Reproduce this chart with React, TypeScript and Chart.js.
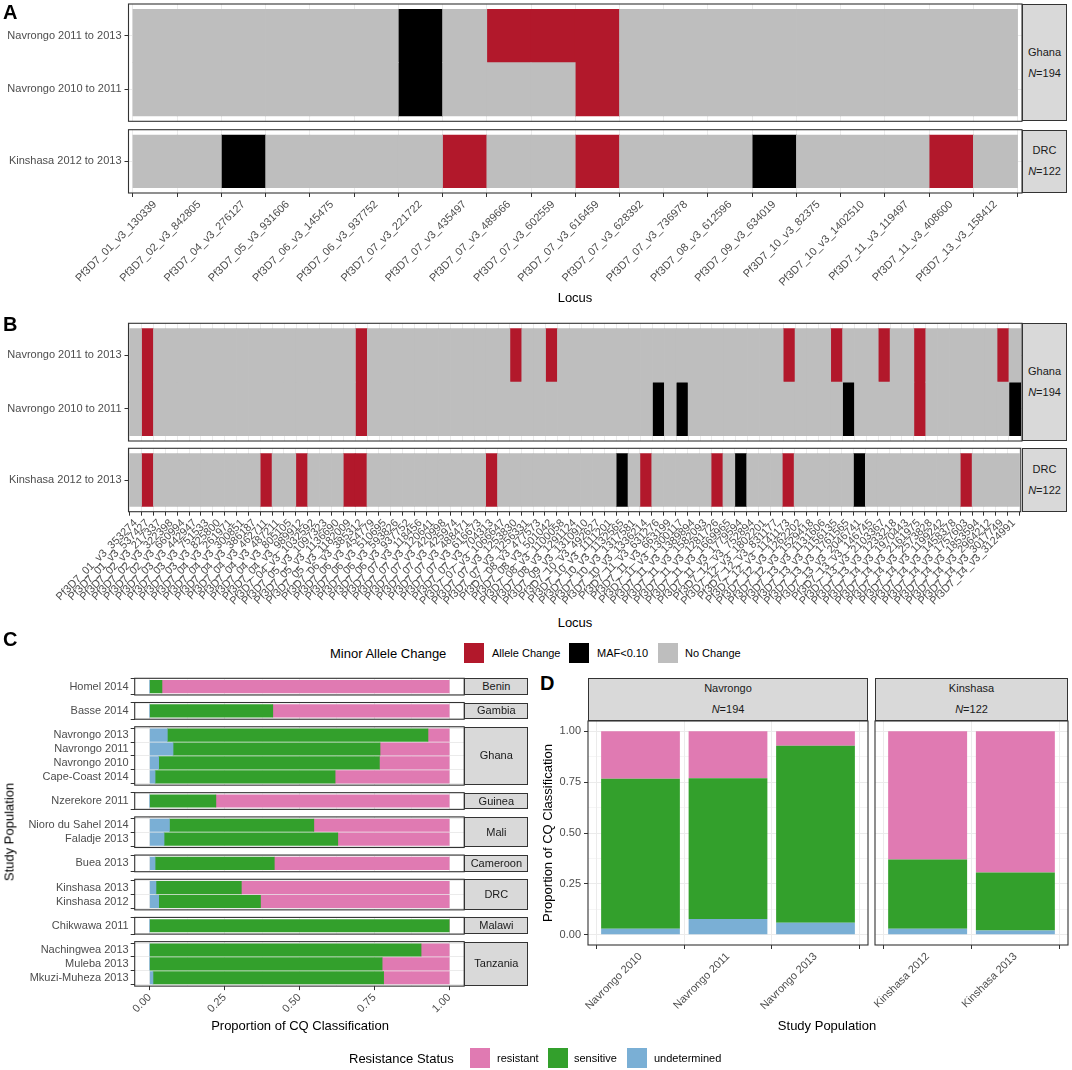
import React, { useEffect, useRef } from 'react';
import { Chart, registerables } from 'chart.js';

Chart.register(...registerables);

const FONT = "'Liberation Sans', Arial, Helvetica, sans-serif";
Chart.defaults.font.family = FONT;
Chart.defaults.font.size = 11;
Chart.defaults.color = '#4D4D4D';

// ---------------- Panel A data ----------------
const lociA = [
  'Pf3D7_01_v3_130339', 'Pf3D7_02_v3_842805', 'Pf3D7_04_v3_276127', 'Pf3D7_05_v3_931606',
  'Pf3D7_06_v3_145475', 'Pf3D7_06_v3_937752', 'Pf3D7_07_v3_221722', 'Pf3D7_07_v3_435497',
  'Pf3D7_07_v3_489666', 'Pf3D7_07_v3_602559', 'Pf3D7_07_v3_616459', 'Pf3D7_07_v3_628392',
  'Pf3D7_07_v3_736978', 'Pf3D7_08_v3_612596', 'Pf3D7_09_v3_634019', 'Pf3D7_10_v3_82375',
  'Pf3D7_10_v3_1402510', 'Pf3D7_11_v3_119497', 'Pf3D7_11_v3_408600', 'Pf3D7_13_v3_158412',
];
// status codes: 0 = No Change, 1 = Allele Change, 2 = MAF<0.10
const aNav1113 = [0, 0, 0, 0, 0, 0, 2, 0, 1, 1, 1, 0, 0, 0, 0, 0, 0, 0, 0, 0];
const aNav1011 = [0, 0, 0, 0, 0, 0, 2, 0, 0, 0, 1, 0, 0, 0, 0, 0, 0, 0, 0, 0];
const aKin1213 = [0, 0, 2, 0, 0, 0, 0, 1, 0, 0, 1, 0, 0, 0, 2, 0, 0, 0, 1, 0];

// ---------------- Panel B data ----------------
const lociB = [
  'Pf3D7_01_v3_353274', 'Pf3D7_01_v3_537427', 'Pf3D7_02_v3_217337', 'Pf3D7_02_v3_322398', 'Pf3D7_02_v3_660994',
  'Pf3D7_03_v3_442947', 'Pf3D7_03_v3_751533', 'Pf3D7_03_v3_825800', 'Pf3D7_04_v3_261971', 'Pf3D7_04_v3_300851',
  'Pf3D7_04_v3_386187', 'Pf3D7_04_v3_462711', 'Pf3D7_04_v3_487211', 'Pf3D7_04_v3_805105', 'Pf3D7_04_v3_989912',
  'Pf3D7_04_v3_1032592', 'Pf3D7_05_v3_1097323', 'Pf3D7_05_v3_1136690', 'Pf3D7_05_v3_1182009', 'Pf3D7_06_v3_385312',
  'Pf3D7_06_v3_454779', 'Pf3D7_06_v3_510695', 'Pf3D7_06_v3_593826', 'Pf3D7_06_v3_937752', 'Pf3D7_07_v3_118456',
  'Pf3D7_07_v3_120641', 'Pf3D7_07_v3_420998', 'Pf3D7_07_v3_425974', 'Pf3D7_07_v3_488471', 'Pf3D7_07_v3_616673',
  'Pf3D7_07_v3_704313', 'Pf3D7_07_v3_1066647', 'Pf3D7_07_v3_1253830', 'Pf3D7_07_v3_1256331', 'Pf3D7_08_v3_477573',
  'Pf3D7_08_v3_501042', 'Pf3D7_08_v3_1100058', 'Pf3D7_08_v3_1291124', 'Pf3D7_09_v3_1310910', 'Pf3D7_10_v3_492627',
  'Pf3D7_10_v3_1111201', 'Pf3D7_10_v3_1132565', 'Pf3D7_10_v3_1317581', 'Pf3D7_10_v3_1336214', 'Pf3D7_11_v3_631276',
  'Pf3D7_11_v3_663199', 'Pf3D7_11_v3_1300117', 'Pf3D7_11_v3_1389894', 'Pf3D7_11_v3_1582093', 'Pf3D7_11_v3_1281726',
  'Pf3D7_11_v3_1669965', 'Pf3D7_11_v3_1779594', 'Pf3D7_12_v3_752894', 'Pf3D7_12_v3_1802201', 'Pf3D7_12_v3_831177',
  'Pf3D7_12_v3_1141173', 'Pf3D7_12_v3_1262202', 'Pf3D7_12_v3_1529418', 'Pf3D7_13_v3_1131606', 'Pf3D7_13_v3_1156135',
  'Pf3D7_13_v3_1761565', 'Pf3D7_13_v3_2046741', 'Pf3D7_13_v3_146745', 'Pf3D7_13_v3_2103367', 'Pf3D7_13_v3_1233218',
  'Pf3D7_14_v3_1970443', 'Pf3D7_14_v3_2161975', 'Pf3D7_14_v3_2573828', 'Pf3D7_14_v3_1199242', 'Pf3D7_14_v3_1458378',
  'Pf3D7_14_v3_1757603', 'Pf3D7_14_v3_1853594', 'Pf3D7_14_v3_2964212', 'Pf3D7_14_v3_3017749', 'Pf3D7_14_v3_3124991',
];
const bNav1113 = [
  0, 1, 0, 0, 0, 0, 0, 0, 0, 0,
  0, 0, 0, 0, 0, 0, 0, 0, 0, 1,
  0, 0, 0, 0, 0, 0, 0, 0, 0, 0,
  0, 0, 1, 0, 0, 1, 0, 0, 0, 0,
  0, 0, 0, 0, 0, 0, 0, 0, 0, 0,
  0, 0, 0, 0, 0, 1, 0, 0, 0, 1,
  0, 0, 0, 1, 0, 0, 1, 0, 0, 0,
  0, 0, 0, 1, 0,
];
const bNav1011 = [
  0, 1, 0, 0, 0, 0, 0, 0, 0, 0,
  0, 0, 0, 0, 0, 0, 0, 0, 0, 1,
  0, 0, 0, 0, 0, 0, 0, 0, 0, 0,
  0, 0, 0, 0, 0, 0, 0, 0, 0, 0,
  0, 0, 0, 0, 2, 0, 2, 0, 0, 0,
  0, 0, 0, 0, 0, 0, 0, 0, 0, 0,
  2, 0, 0, 0, 0, 0, 1, 0, 0, 0,
  0, 0, 0, 0, 2,
];
const bKin1213 = [
  0, 1, 0, 0, 0, 0, 0, 0, 0, 0,
  0, 1, 0, 0, 1, 0, 0, 0, 1, 1,
  0, 0, 0, 0, 0, 0, 0, 0, 0, 0,
  1, 0, 0, 0, 0, 0, 0, 0, 0, 0,
  0, 2, 0, 1, 0, 0, 0, 0, 0, 1,
  0, 2, 0, 0, 0, 1, 0, 0, 0, 0,
  0, 2, 0, 0, 0, 0, 0, 0, 0, 0,
  1, 0, 0, 0, 0,
];

const heatStatus = ['No Change', 'Allele Change', 'MAF<0.10'];
const heatColors = ['#BEBEBE', '#B2182B', '#000000'];

// ---------------- Panel C / D data ----------------
const sites = [
  'Homel 2014', 'Basse 2014', 'Navrongo 2013', 'Navrongo 2011', 'Navrongo 2010', 'Cape-Coast 2014',
  'Nzerekore 2011', 'Nioro du Sahel 2014', 'Faladje 2013', 'Buea 2013', 'Kinshasa 2013', 'Kinshasa 2012',
  'Chikwawa 2011', 'Nachingwea 2013', 'Muleba 2013', 'Mkuzi-Muheza 2013',
];
const siteCountry = [
  'Benin', 'Gambia', 'Ghana', 'Ghana', 'Ghana', 'Ghana', 'Guinea', 'Mali', 'Mali', 'Cameroon',
  'DRC', 'DRC', 'Malawi', 'Tanzania', 'Tanzania', 'Tanzania',
];
const countries = ['Benin', 'Gambia', 'Ghana', 'Guinea', 'Mali', 'Cameroon', 'DRC', 'Malawi', 'Tanzania'];
const undetermined = [0, 0, 0.059, 0.078, 0.03, 0.018, 0, 0.066, 0.048, 0.018, 0.021, 0.03, 0, 0, 0, 0.011];
const sensitive = [0.041, 0.411, 0.87, 0.691, 0.737, 0.601, 0.221, 0.482, 0.58, 0.398, 0.285, 0.34, 1.0, 0.906, 0.776, 0.77];
const resistant = [0.959, 0.589, 0.071, 0.231, 0.233, 0.381, 0.779, 0.452, 0.372, 0.584, 0.694, 0.63, 0, 0.094, 0.224, 0.219];

const dNavrongo = ['Navrongo 2010', 'Navrongo 2011', 'Navrongo 2013'];
const dKinshasa = ['Kinshasa 2012', 'Kinshasa 2013'];

const resColors = { resistant: '#E07AB2', sensitive: '#33A02C', undetermined: '#7AAFD5' };

// ---------------- helpers ----------------
const LINE = '#333333';
const GRID = '#EBEBEB';
const TICKTXT = '#4D4D4D';

type Box = { left: number; top: number; right: number; bottom: number };
type Area = { l: number; t: number; r: number; b: number };

const framePlugin = {
  id: 'panelFrame',
  afterDatasetsDraw(chart: any) {
    const { ctx, chartArea: a } = chart;
    ctx.save();
    ctx.strokeStyle = LINE;
    ctx.lineWidth = 1.1;
    ctx.strokeRect(a.left, a.top, a.right - a.left, a.bottom - a.top);
    ctx.restore();
  },
};

function baseOptions(box: Box, area: Area) {
  return {
    animation: false,
    responsive: false,
    maintainAspectRatio: false,
    events: [],
    layout: { padding: { left: 0, top: area.t - box.top, right: box.right - area.r, bottom: 0 } },
    plugins: { legend: { display: false }, tooltip: { enabled: false }, title: { display: false } },
  };
}

const isMajor = (v: number) => Math.abs(v * 4 - Math.round(v * 4)) < 1e-6;
const quarterTicks = [0, 0.125, 0.25, 0.375, 0.5, 0.625, 0.75, 0.875, 1];

function heatConfig(loci: string[], rows: { label: string; codes: number[] }[], box: Box, area: Area, showX: boolean) {
  const datasets = heatStatus.map((name, c) => {
    const data: any[] = [];
    rows.forEach((row, r) => {
      row.codes.forEach((code, i) => {
        if (code === c) data.push({ x: i, y: [r, r + 1] });
      });
    });
    return {
      label: name,
      data,
      backgroundColor: heatColors[c],
      borderWidth: 0,
      grouped: false,
      barPercentage: 1,
      categoryPercentage: 1,
    };
  });
  return {
    type: 'bar',
    data: { datasets },
    options: {
      ...baseOptions(box, area),
      scales: {
        x: {
          type: 'linear',
          offset: false,
          min: -0.6,
          max: loci.length - 0.4,
          bounds: 'data',
          afterBuildTicks: (s: any) => {
            s.ticks = loci.map((_, i) => ({ value: i }));
          },
          afterFit: (s: any) => {
            s.height = box.bottom - area.b;
          },
          ticks: {
            display: showX,
            autoSkip: false,
            minRotation: 45,
            maxRotation: 45,
            padding: 1,
            color: TICKTXT,
            font: { size: 11 },
            callback: (v: number) => loci[Math.round(v)],
          },
          grid: { color: GRID, drawTicks: showX, tickLength: 4, tickColor: LINE },
          border: { display: false },
        },
        y: {
          type: 'linear',
          offset: false,
          min: -0.1,
          max: rows.length + 0.1,
          bounds: 'data',
          afterBuildTicks: (s: any) => {
            s.ticks = rows.map((_, r) => ({ value: r + 0.5 }));
          },
          afterFit: (s: any) => {
            s.width = area.l - box.left;
          },
          ticks: {
            padding: 3,
            color: TICKTXT,
            font: { size: 11 },
            callback: (v: number) => rows[Math.round(v - 0.5)].label,
          },
          grid: { color: GRID, tickLength: 4, tickColor: LINE },
          border: { display: false },
        },
      },
    },
    plugins: [framePlugin],
  };
}

const resSeries = [
  { label: 'undetermined', vals: undetermined, color: resColors.undetermined },
  { label: 'sensitive', vals: sensitive, color: resColors.sensitive },
  { label: 'resistant', vals: resistant, color: resColors.resistant },
];

function cConfig(rowIdx: number[], box: Box, area: Area, showX: boolean) {
  const datasets = resSeries.map((s) => ({
    label: s.label,
    data: rowIdx.map((si, j) => ({ x: s.vals[si], y: j })),
    backgroundColor: s.color,
    borderWidth: 0,
    barThickness: 12.5,
  }));
  return {
    type: 'bar',
    data: { datasets },
    options: {
      ...baseOptions(box, area),
      indexAxis: 'y',
      scales: {
        x: {
          type: 'linear',
          stacked: true,
          offset: false,
          min: -0.05,
          max: 1.05,
          bounds: 'data',
          afterBuildTicks: (s: any) => {
            s.ticks = quarterTicks.map((v) => ({ value: v }));
          },
          afterFit: (s: any) => {
            s.height = box.bottom - area.b;
          },
          ticks: {
            display: showX,
            autoSkip: false,
            minRotation: 45,
            maxRotation: 45,
            padding: 1,
            color: TICKTXT,
            font: { size: 11 },
            callback: (v: number) => (isMajor(v) ? v.toFixed(2) : ''),
          },
          grid: {
            color: GRID,
            lineWidth: (ctx: any) => (ctx.tick && isMajor(ctx.tick.value) ? 1 : 0.5),
            tickColor: (ctx: any) => (ctx.tick && isMajor(ctx.tick.value) ? LINE : 'rgba(0,0,0,0)'),
            drawTicks: showX,
            tickLength: 4,
          },
          border: { display: false },
        },
        y: {
          type: 'linear',
          stacked: true,
          offset: false,
          reverse: true,
          min: -0.6,
          max: rowIdx.length - 0.4,
          bounds: 'data',
          afterBuildTicks: (s: any) => {
            s.ticks = rowIdx.map((_, j) => ({ value: j }));
          },
          afterFit: (s: any) => {
            s.width = area.l - box.left;
          },
          ticks: {
            padding: 2,
            color: TICKTXT,
            font: { size: 11 },
            callback: (v: number) => sites[rowIdx[Math.round(v)]],
          },
          grid: { color: GRID, tickLength: 4, tickColor: LINE },
          border: { display: false },
        },
      },
    },
    plugins: [framePlugin],
  };
}

function dConfig(names: string[], box: Box, area: Area, showY: boolean) {
  const idx = names.map((n) => sites.indexOf(n));
  const datasets = resSeries.map((s) => ({
    label: s.label,
    data: idx.map((si, j) => ({ x: j, y: s.vals[si] })),
    backgroundColor: s.color,
    borderWidth: 0,
    barPercentage: 0.9,
    categoryPercentage: 1,
  }));
  return {
    type: 'bar',
    data: { datasets },
    options: {
      ...baseOptions(box, area),
      scales: {
        x: {
          type: 'linear',
          stacked: true,
          offset: false,
          min: -0.6,
          max: names.length - 0.4,
          bounds: 'data',
          afterBuildTicks: (s: any) => {
            s.ticks = names.map((_, j) => ({ value: j }));
          },
          afterFit: (s: any) => {
            s.height = box.bottom - area.b;
          },
          ticks: {
            autoSkip: false,
            minRotation: 45,
            maxRotation: 45,
            padding: 1,
            color: TICKTXT,
            font: { size: 11 },
            callback: (v: number) => names[Math.round(v)],
          },
          grid: { color: GRID, tickLength: 4, tickColor: LINE },
          border: { display: false },
        },
        y: {
          type: 'linear',
          stacked: true,
          offset: false,
          min: -0.05,
          max: 1.05,
          bounds: 'data',
          afterBuildTicks: (s: any) => {
            s.ticks = quarterTicks.map((v) => ({ value: v }));
          },
          afterFit: (s: any) => {
            s.width = area.l - box.left;
          },
          ticks: {
            display: showY,
            padding: 3,
            color: TICKTXT,
            font: { size: 11 },
            callback: (v: number) => (isMajor(v) ? v.toFixed(2) : ''),
          },
          grid: {
            color: GRID,
            lineWidth: (ctx: any) => (ctx.tick && isMajor(ctx.tick.value) ? 1 : 0.5),
            tickColor: (ctx: any) => (ctx.tick && isMajor(ctx.tick.value) ? LINE : 'rgba(0,0,0,0)'),
            drawTicks: showY,
            tickLength: 4,
          },
          border: { display: false },
        },
      },
    },
    plugins: [framePlugin],
  };
}

function ChartCanvas({ box, build }: { box: Box; build: () => any }) {
  const ref = useRef<HTMLCanvasElement>(null);
  useEffect(() => {
    const chart = new Chart(ref.current as HTMLCanvasElement, build());
    return () => chart.destroy();
  }, []);
  const w = box.right - box.left;
  const h = box.bottom - box.top;
  return (
    <canvas
      ref={ref}
      width={w}
      height={h}
      style={{ position: 'absolute', left: box.left, top: box.top, width: w, height: h }}
    />
  );
}

function T({ x, y, children, size = 11, anchor = 'start', color = '#000000', bold = false, rotate = 0 }: any) {
  const tx = anchor === 'middle' ? '-50%' : anchor === 'end' ? '-100%' : '0';
  return (
    <div
      style={{
        position: 'absolute',
        left: x,
        top: y,
        transform: `translate(${tx}, -50%)${rotate ? ` rotate(${rotate}deg)` : ''}`,
        fontSize: size,
        lineHeight: 1,
        whiteSpace: 'nowrap',
        color,
        fontWeight: bold ? 700 : 400,
      }}
    >
      {children}
    </div>
  );
}

function Strip({ l, t, w, h, lines }: { l: number; t: number; w: number; h: number; lines: React.ReactNode[] }) {
  return (
    <div
      style={{
        position: 'absolute',
        left: l,
        top: t,
        width: w,
        height: h,
        boxSizing: 'border-box',
        border: `1px solid ${LINE}`,
        background: '#D9D9D9',
        display: 'flex',
        flexDirection: 'column',
        justifyContent: 'center',
        alignItems: 'center',
        fontSize: 11,
        color: '#1A1A1A',
        lineHeight: '21px',
      }}
    >
      {lines.map((ln, i) => (
        <div key={i}>{ln}</div>
      ))}
    </div>
  );
}

function Key({ x, y, color }: { x: number; y: number; color: string }) {
  return <div style={{ position: 'absolute', left: x, top: y, width: 20, height: 20, background: color }} />;
}

const nLabel = (n: number) => (
  <span>
    <i>N</i>={n}
  </span>
);

export default function App() {
  useEffect(() => {
    document.body.style.margin = '0';
    document.body.style.background = '#ffffff';
  }, []);

  // Panel layouts (boxes extend well beyond the plot areas so axis label padding never pushes the areas)
  const aGhana = { area: { l: 128.5, t: 4, r: 1022, b: 121.3 }, box: { left: 0, top: -12, right: 1024, bottom: 136 } };
  const aDrc = { area: { l: 128.5, t: 129.7, r: 1022, b: 193 }, box: { left: 0, top: 114, right: 1024, bottom: 292 } };
  const bGhana = { area: { l: 128.5, t: 323.3, r: 1022, b: 441 }, box: { left: 0, top: 308, right: 1024, bottom: 456 } };
  const bDrc = { area: { l: 128.5, t: 448.3, r: 1022, b: 511.7 }, box: { left: 0, top: 433, right: 1024, bottom: 612 } };

  const rowsAGhana = [
    { label: 'Navrongo 2010 to 2011', codes: aNav1011 },
    { label: 'Navrongo 2011 to 2013', codes: aNav1113 },
  ];
  const rowsADrc = [{ label: 'Kinshasa 2012 to 2013', codes: aKin1213 }];
  const rowsBGhana = [
    { label: 'Navrongo 2010 to 2011', codes: bNav1011 },
    { label: 'Navrongo 2011 to 2013', codes: bNav1113 },
  ];
  const rowsBDrc = [{ label: 'Kinshasa 2012 to 2013', codes: bKin1213 }];

  // Panel C facets
  const C_TOP = 678.3;
  const C_UNIT = 13.9;
  const C_GAP = 7.55;
  const cFacets = countries.map((c) => sites.map((_, i) => i).filter((i) => siteCountry[i] === c));
  let yy = C_TOP;
  const cLayout = cFacets.map((rows) => {
    const t = yy;
    const b = t + (rows.length + 0.2) * C_UNIT;
    yy = b + C_GAP;
    return { t, b };
  });

  const dNav = { area: { l: 588, t: 721, r: 868, b: 945 }, box: { left: 540, top: 705, right: 870, bottom: 1018 } };
  const dKin = { area: { l: 875, t: 721, r: 1068, b: 945 }, box: { left: 871, top: 705, right: 1070, bottom: 1018 } };

  return (
    <div
      style={{
        position: 'absolute',
        left: 0,
        top: 0,
        width: 1072,
        height: 1070,
        background: '#ffffff',
        fontFamily: FONT,
        overflow: 'hidden',
      }}
    >
      {/* Panel A */}
      <ChartCanvas box={aGhana.box} build={() => heatConfig(lociA, rowsAGhana, aGhana.box, aGhana.area, false)} />
      <ChartCanvas box={aDrc.box} build={() => heatConfig(lociA, rowsADrc, aDrc.box, aDrc.area, true)} />
      <Strip l={1022} t={4} w={45} h={117.3} lines={['Ghana', nLabel(194)]} />
      <Strip l={1022} t={129.7} w={45} h={63.3} lines={['DRC', nLabel(122)]} />
      <T x={3} y={12} size={20} bold>A</T>
      <T x={575} y={297} size={13} anchor="middle">Locus</T>

      {/* Panel B */}
      <ChartCanvas box={bGhana.box} build={() => heatConfig(lociB, rowsBGhana, bGhana.box, bGhana.area, false)} />
      <ChartCanvas box={bDrc.box} build={() => heatConfig(lociB, rowsBDrc, bDrc.box, bDrc.area, true)} />
      <Strip l={1022} t={323.3} w={45} h={117.7} lines={['Ghana', nLabel(194)]} />
      <Strip l={1022} t={448.3} w={45} h={63.4} lines={['DRC', nLabel(122)]} />
      <T x={3} y={324} size={20} bold>B</T>
      <T x={575} y={622} size={13} anchor="middle">Locus</T>

      {/* Legend: Minor Allele Change */}
      <T x={330} y={653.3} size={13}>Minor Allele Change</T>
      <Key x={464} y={643} color={heatColors[1]} />
      <T x={492} y={653.3}>Allele Change</T>
      <Key x={569} y={643} color={heatColors[2]} />
      <T x={597} y={653.3}>MAF&lt;0.10</T>
      <Key x={658} y={643} color={heatColors[0]} />
      <T x={685} y={653.3}>No Change</T>

      {/* Panel C */}
      {cFacets.map((rows, k) => {
        const last = k === cFacets.length - 1;
        const { t, b } = cLayout[k];
        const area = { l: 134.7, t, r: 464.2, b };
        const box = { left: 0, top: Math.floor(t - 13), right: 466, bottom: last ? Math.ceil(b + 40) : Math.ceil(b + 13) };
        return <ChartCanvas key={'c' + k} box={box} build={() => cConfig(rows, box, area, last)} />;
      })}
      {cFacets.map((_, k) => {
        const { t, b } = cLayout[k];
        return <Strip key={'cs' + k} l={464.2} t={t} w={64.3} h={b - t} lines={[countries[k]]} />;
      })}
      <T x={3} y={639} size={20} bold>C</T>
      <T x={8.5} y={832} size={13} anchor="middle" rotate={-90}>Study Population</T>
      <T x={300} y={1025} size={13} anchor="middle">Proportion of CQ Classification</T>

      {/* Panel D */}
      <ChartCanvas box={dNav.box} build={() => dConfig(dNavrongo, dNav.box, dNav.area, true)} />
      <ChartCanvas box={dKin.box} build={() => dConfig(dKinshasa, dKin.box, dKin.area, false)} />
      <Strip l={588} t={677.7} w={280} h={43.3} lines={['Navrongo', nLabel(194)]} />
      <Strip l={875} t={677.7} w={193} h={43.3} lines={['Kinshasa', nLabel(122)]} />
      <T x={540} y={682.5} size={20} bold>D</T>
      <T x={547} y={833} size={13} anchor="middle" rotate={-90}>Proportion of CQ Classification</T>
      <T x={827} y={1025} size={13} anchor="middle">Study Population</T>

      {/* Legend: Resistance Status */}
      <T x={349} y={1057.7} size={13}>Resistance Status</T>
      <Key x={470} y={1047.5} color={resColors.resistant} />
      <T x={497} y={1057.7}>resistant</T>
      <Key x={547.5} y={1047.5} color={resColors.sensitive} />
      <T x={574} y={1057.7}>sensitive</T>
      <Key x={627} y={1047.5} color={resColors.undetermined} />
      <T x={654} y={1057.7}>undetermined</T>
    </div>
  );
}
